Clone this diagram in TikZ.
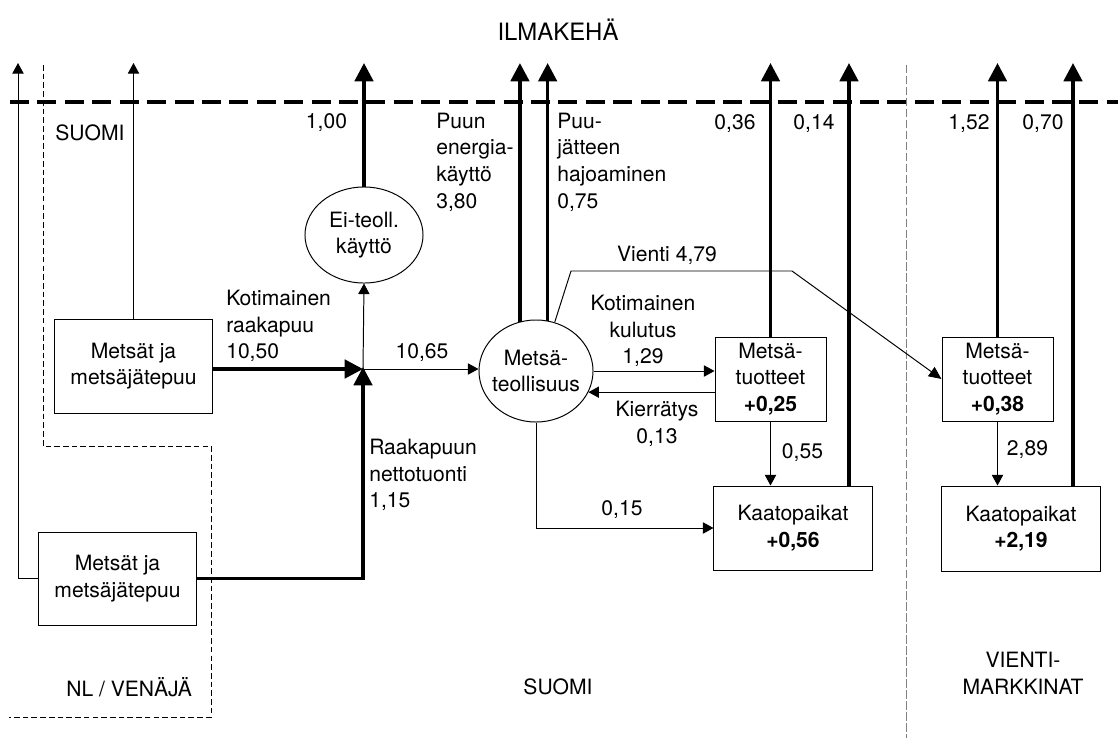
\documentclass[tikz,border=0pt]{standalone}
\usepackage{fontspec}
\setmainfont{TeX Gyre Heros}
\usetikzlibrary{arrows.meta,shapes.geometric}

\begin{document}
\begin{tikzpicture}[x=0.025cm,y=-0.025cm,
  every node/.style={font=\fontsize{15}{19}\selectfont},
  box/.style={draw,line width=0.7pt,inner sep=0pt,align=center},
  oval/.style={draw,ellipse,line width=0.7pt,inner sep=0pt,align=center},
  lbl/.style={inner sep=0pt},
  flow/.style={line width=0.7pt,-{Triangle[width=8pt,length=7.5pt]}},
  bigflow/.style={line width=2.6pt,-{Triangle[width=13pt,length=13pt]}}]
  \useasboundingbox (0,0) rectangle (1118,738);

  % rajat
  \draw[line width=2.6pt,dash pattern=on 13.5pt off 6pt] (10,102) -- (1118,102);
  \draw[line width=0.6pt,dash pattern=on 4pt off 2.2pt]
    (43,65) -- (43,446) -- (211,446) -- (211,717) -- (9,717);
  \draw[gray,line width=0.6pt,dash pattern=on 6pt off 1.8pt] (906,65) -- (906,738);

  \node[font=\fontsize{17}{20}\selectfont] (ilmakeha) at (558,30) {ILMAKEHÄ};
  \node (suomitop) at (90,133) {SUOMI};
  \node[anchor=east] (nlvenaja) at (197,687) {NL / VENÄJÄ};
  \node (suomibot) at (558,687) {SUOMI};
  \node[align=center] (vientim) at (1023,673) {VIENTI-\\MARKKINAT};

  % varastot
  \node[box,minimum width=3.925cm,minimum height=2.35cm] (fimet) at (133.5,366)
    {Metsät ja\\metsäjätepuu};
  \node[box,minimum width=3.925cm,minimum height=2.325cm] (nlmet) at (117.5,578.5)
    {Metsät ja\\metsäjätepuu};
  \node[oval,minimum width=2.95cm,minimum height=2.4cm] (ei) at (364,235)
    {Ei-teoll.\\käyttö};
  \node[oval,inner xsep=-3pt,minimum width=2.85cm,minimum height=2.55cm] (ind) at (536,371)
    {Metsä-\\teollisuus};
  \node[box,minimum width=2.775cm,minimum height=2.1cm] (mfi) at (770.5,379)
    {Metsä-\\tuotteet\\\textbf{+0,25}};
  \node[box,minimum width=3.95cm,minimum height=2.1cm] (kfi) at (793,528)
    {Kaatopaikat\\\textbf{+0,56}};
  \node[box,minimum width=2.775cm,minimum height=2.1cm] (mvi) at (997.5,379)
    {Metsä-\\tuotteet\\\textbf{+0,38}};
  \node[box,minimum width=3.95cm,minimum height=2.125cm] (kvi) at (1021,528.5)
    {Kaatopaikat\\\textbf{+2,19}};

  \coordinate (jn) at (363,369);
  \coordinate (ilma) at (0,63);
  \coordinate (ilma1) at (18,63);
  \coordinate (ilma6) at (849,63);
  \coordinate (ilma8) at (1073,63);
  \coordinate (v1) at (571,271);
  \coordinate (v2) at (792,271);

  % virrat ilmakehään
  \draw[flow] (nlmet.west) -| (ilma1);
  \draw[flow] (fimet.north) -- (fimet.north |- ilma);
  \draw[bigflow] (ei.north) -- (ei.north |- ilma);
  \draw[bigflow] (ind.108) -- (ind.108 |- ilma);
  \draw[bigflow] (ind.77) -- (ind.77 |- ilma);
  \draw[bigflow] (mfi.north) -- (mfi.north |- ilma);
  \draw[bigflow] (kfi.north -| ilma6) -- (ilma6);
  \draw[bigflow] (mvi.north) -- (mvi.north |- ilma);
  \draw[bigflow] (kvi.north -| ilma8) -- (ilma8);

  % puuvirrat
  \draw[bigflow] (fimet.east |- jn) -- (jn);
  \draw[bigflow] (nlmet.east) -| ([yshift=0.05cm]jn);
  \draw[flow] (jn) -- (ei.south);
  \draw[flow] (jn) -- (jn -| ind.west);
  \draw[flow] (ind.east) -- (ind.east -| mfi.west);
  \draw[flow] (mfi.west |- ind.-22) -- (ind.-22);
  \draw[flow] (ind.south) |- (kfi.west);
  \draw[flow] (mfi.south) -- (mfi.south |- kfi.north);
  \draw[flow] (mvi.south) -- (mvi.south |- kvi.north);
  \draw[line width=0.7pt,-{Triangle[width=8pt,length=9pt]}]
    (ind.69) -- (v1) -- (v2) -- (mvi.west);

  % luvut
  \node[anchor=east] (n100) at (352,123) {1,00};
  \node[lbl,anchor=west,align=left] (energia) at (436,162) {Puun\\energia-\\käyttö\\3,80};
  \node[lbl,anchor=west,align=left] (hajo) at (557,162) {Puu-\\jätteen\\hajoaminen\\0,75};
  \node (n036) at (735,124) {0,36};
  \node (n014) at (814,124) {0,14};
  \node (n152) at (969,124) {1,52};
  \node (n070) at (1043,124) {0,70};
  \node[lbl,anchor=west,align=left] (kraaka) at (226,326) {Kotimainen\\raakapuu\\10,50};
  \node[lbl,anchor=west,align=left] (tuonti) at (369,475) {Raakapuun\\nettotuonti\\1,15};
  \node (n1065) at (422,353) {10,65};
  \node (vienti) at (667,255) {Vienti 4,79};
  \node[lbl,align=center] (kulutus) at (643,331) {Kotimainen\\kulutus\\1,29};
  \node[lbl,align=center] (kierr) at (657,424) {Kierrätys\\0,13};
  \node (n015) at (622,510) {0,15};
  \node[anchor=west] (n055) at (777,453) {0,55};
  \node[anchor=west] (n289) at (1002,450) {2,89};
\end{tikzpicture}
\end{document}
